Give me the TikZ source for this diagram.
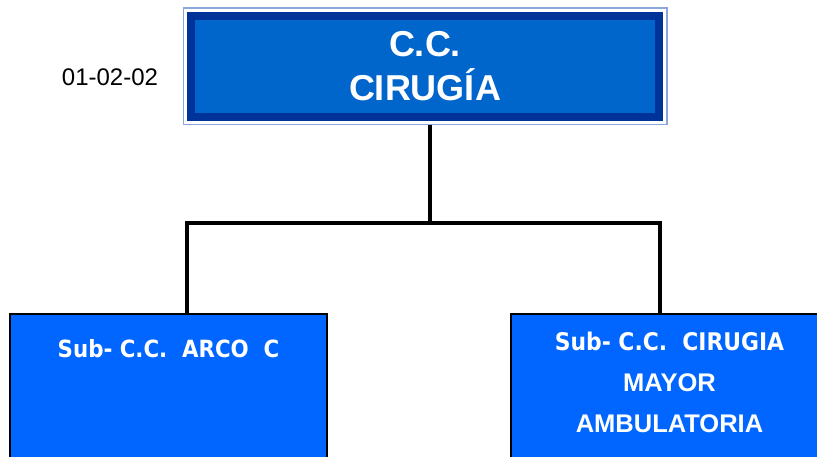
\documentclass[tikz,border=0pt]{standalone}
\usepackage{fontspec}
\setmainfont{Liberation Sans}
\newfontfamily\subfont{DejaVu Sans Condensed}
\newfontfamily\arialfont{Liberation Sans}
\usetikzlibrary{positioning}
\definecolor{ccfill}{HTML}{0066CC}
\definecolor{ccdark}{HTML}{00339A}
\definecolor{ccedge}{HTML}{8AA6DC}
\definecolor{subfill}{HTML}{0066FF}
\begin{document}
\begin{tikzpicture}[x=1pt, y=-1pt,
			topbox/.style={rectangle, fill=ccfill, draw=ccdark, line width=8pt, minimum width=468pt, minimum height=101pt, text=white, align=center, font=\arialfont\bfseries\fontsize{36}{44}\selectfont, preaction={draw=ccedge, line width=17pt}, preaction={draw=white, line width=14pt}},
			subbox/.style={rectangle, fill=subfill, draw=black, line width=1.5pt, anchor=north, minimum width=317pt, minimum height=170pt, text=white, align=center, text depth=100pt, inner ysep=18pt, font=\subfont\bfseries\fontsize{23.7}{41}\selectfont},
			codelabel/.style={font=\arialfont\fontsize{24}{28}\selectfont},
			conn/.style={draw=black, line width=4pt, line join=miter},
			]
			\useasboundingbox (0,0) rectangle (817,457);
			\node[topbox] at (425,66.5) (cc) {C.C.\\CIRUGÍA};
			\node[codelabel] at (110,77) (code) {01-02-02};
			\node[subbox] at (168.5,313) (arco) {Sub- C.C.\ \ ARCO\ \ C};
			\node[subbox] at (669.5,313) (cma) {{\fontsize{24.3}{41}\selectfont Sub- C.C.\ \ CIRUGIA}\\{\arialfont\bfseries\fontsize{25.5}{41}\selectfont MAYOR}\\{\arialfont\bfseries\fontsize{25.5}{41}\selectfont AMBULATORIA}};
			\coordinate (bus) at (430,223);
			\draw[conn] ([xshift=5pt,yshift=-4pt]cc.south) -- (bus);
			\draw[conn] ([xshift=18.5pt]arco.north) |- (bus) -| ([xshift=-9.5pt]cma.north);
		\end{tikzpicture}
\end{document}
